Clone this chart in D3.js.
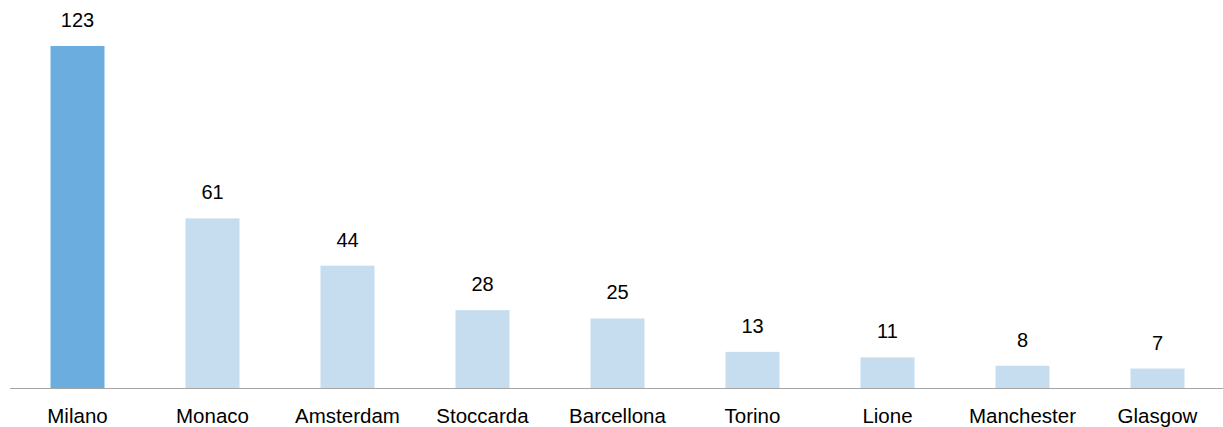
<html>
<head>
  <meta charset="utf-8" />
  <script src="https://cdnjs.cloudflare.com/ajax/libs/d3/7.8.5/d3.min.js"></script>
  <style>
    body { margin: 0; background: #fff; }
    text { font-family: "Liberation Sans", Arial, sans-serif; fill: #000; }
  </style>
</head>
<body>
  <svg></svg>
  <script>
    var cities = ["Milano", "Monaco", "Amsterdam", "Stoccarda", "Barcellona", "Torino", "Lione", "Manchester", "Glasgow"]
    var values = [123, 61, 44, 28, 25, 13, 11, 8, 7]

    var width = 1223, height = 427
    var svg = d3.select("svg").attr("width", width).attr("height", height)

    var xScale = d3.scaleBand().domain(cities).range([10, 1225])
                   .paddingInner(0.6).paddingOuter(0.3)
    var yScale = d3.scaleLinear().domain([0, 123]).range([388, 46])

    svg.selectAll("rect.bar")
      .data(values)
      .enter()
      .append("rect")
        .attr("class", "bar")
        .attr("x", (d, i) => xScale(cities[i]))
        .attr("width", xScale.bandwidth())
        .attr("y", d => yScale(d))
        .attr("height", d => yScale(0) - yScale(d))
        .style("fill", (d, i) => i === 0 ? "#6badde" : "#c6ddf0")

    // baseline
    svg.append("line")
      .attr("x1", 10).attr("x2", width)
      .attr("y1", yScale(0) + 0.5).attr("y2", yScale(0) + 0.5)
      .style("stroke", "#a6a6a6")

    svg.selectAll("text.value")
      .data(values)
      .enter()
      .append("text")
        .attr("class", "value")
        .attr("x", (d, i) => xScale(cities[i]) + xScale.bandwidth() / 2)
        .attr("y", d => yScale(d) - 19)
        .attr("text-anchor", "middle")
        .style("font-size", "20px")
        .text(d => d)

    svg.selectAll("text.cat")
      .data(cities)
      .enter()
      .append("text")
        .attr("class", "cat")
        .attr("x", d => xScale(d) + xScale.bandwidth() / 2)
        .attr("y", 423)
        .attr("text-anchor", "middle")
        .style("font-size", "20.5px")
        .text(d => d)
  </script>
</body>
</html>
